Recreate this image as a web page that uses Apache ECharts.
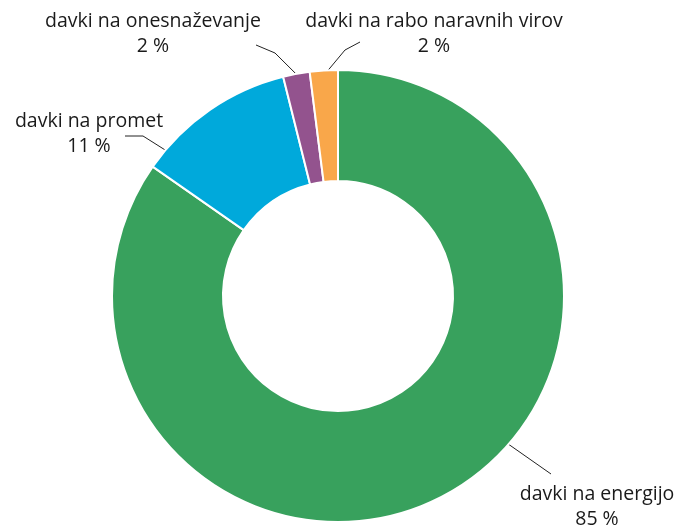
<!DOCTYPE html>
<html><head><meta charset="utf-8">
<script src="https://cdn.jsdelivr.net/npm/echarts@6/dist/echarts.min.js"></script>
<style>html,body{margin:0;padding:0;background:#fff}#c{width:681px;height:530px}</style>
</head><body><div id="c"></div>
<script>
const categories = ['davki na energijo', 'davki na promet', 'davki na onesnaževanje', 'davki na rabo naravnih virov'];
const values = [84.7, 11.4, 1.9, 2.0];
const percentLabels = ['85 %', '11 %', '2 %', '2 %'];
const colors = ['#38a15d', '#00a9db', '#93538e', '#f9a74a'];

// label layout (annotation placement only)
const CX = 338, CY = 296, R_IN = 115, R_OUT = 226;
const labelCenters = [[597, 507], [89, 134], [153, 34], [434, 34]];
const guideAngles = [131, 310.2, 349.3, 357.5];           // where the guide leaves the ring
const guideBends = [[551, 474], [143, 136], [275, 53], [345, 50]];
const guideEnds = [[551, 474], [125, 136], [256, 45], [360, 42]];

function ringPoint(deg) {
  const a = deg * Math.PI / 180;
  return [CX + R_OUT * Math.sin(a), CY - R_OUT * Math.cos(a)];
}

const chart = echarts.init(document.getElementById('c'), null, {renderer: 'canvas'});
chart.setOption({
  animation: false,
  series: [{
    type: 'pie',
    center: [CX, CY],
    radius: [R_IN, R_OUT],
    startAngle: 90,
    clockwise: true,
    itemStyle: {borderColor: '#fff', borderWidth: 2},
    label: {
      show: true,
      formatter: p => categories[p.dataIndex] + '\n' + percentLabels[p.dataIndex],
      fontFamily: 'Open Sans',
      fontSize: 19.5,
      lineHeight: 25,
      color: '#1a1a1a',
      align: 'center',
      overflow: 'none',
      width: 300
    },
    labelLine: {show: true, lineStyle: {color: '#222', width: 1}, length: 15, length2: 15},
    labelLayout: p => ({
      x: labelCenters[p.dataIndex][0],
      y: labelCenters[p.dataIndex][1],
      align: 'center',
      verticalAlign: 'middle',
      labelLinePoints: [ringPoint(guideAngles[p.dataIndex]), guideBends[p.dataIndex], guideEnds[p.dataIndex]]
    }),
    data: categories.map((n, i) => ({name: n, value: values[i], itemStyle: {color: colors[i]}}))
  }]
});
</script></body></html>
